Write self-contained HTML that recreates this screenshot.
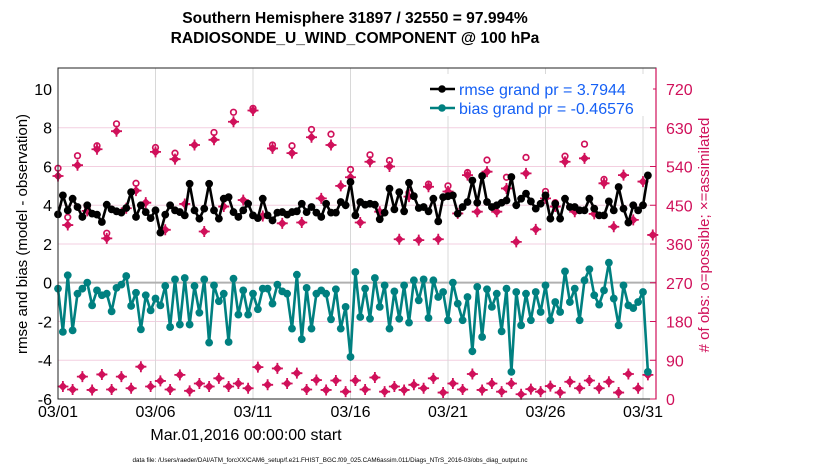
<!DOCTYPE html>
<html><head><meta charset="utf-8"><style>
body{margin:0;background:#fff;}
svg{display:block;font-family:"Liberation Sans",sans-serif;}
</style></head><body>
<svg id="chart" width="830" height="470" viewBox="0 0 830 470">
<text x="355" y="23" text-anchor="middle" font-size="15.6" font-weight="bold">Southern Hemisphere 31897 / 32550 = 97.994%</text>
<text x="355" y="43" text-anchor="middle" font-size="15.6" font-weight="bold">RADIOSONDE_U_WIND_COMPONENT @ 100 hPa</text>
<g id="grid"></g>
<g id="marks"></g>
<rect x="58" y="68" width="598" height="331" fill="none" stroke="#222" stroke-width="1"/>
<line x1="656" y1="68" x2="656" y2="399" stroke="#d0105a" stroke-width="1.2"/>
<g id="axes"></g>
<text x="246" y="440" text-anchor="middle" font-size="16">Mar.01,2016 00:00:00 start</text>
<text x="330" y="462" text-anchor="middle" font-size="6.3">data file: /Users/raeder/DAI/ATM_forcXX/CAM6_setup/f.e21.FHIST_BGC.f09_025.CAM6assim.011/Diags_NTrS_2016-03/obs_diag_output.nc</text>
<text transform="translate(27,234) rotate(-90)" text-anchor="middle" font-size="15">rmse and bias (model - observation)</text>
<text transform="translate(709,235) rotate(-90)" text-anchor="middle" font-size="15" fill="#d0105a"># of obs: o=possible; ×=assimilated</text>
<g>
<rect x="425" y="74" width="228" height="42" fill="#fff"/>
<line x1="430" y1="89" x2="455" y2="89" stroke="#000" stroke-width="2.5"/>
<circle cx="442" cy="89" r="3.8" fill="#000"/>
<text x="459" y="95" font-size="16" fill="#1560f5">rmse grand pr = 3.7944</text>
<line x1="430" y1="108" x2="455" y2="108" stroke="#008080" stroke-width="2.5"/>
<circle cx="442" cy="108" r="3.8" fill="#008080"/>
<text x="459" y="114" font-size="16" fill="#1560f5">bias grand pr = -0.46576</text>
</g>
</svg>
<script>
const xTickLabels=["03/01","03/06","03/11","03/16","03/21","03/26","03/31"];
const xTickDays=[0,5,10,15,20,25,30];
const yTickLabels=[-6,-4,-2,0,2,4,6,8,10];
const rTickLabels=[0,90,180,270,360,450,540,630,720];
const rmse=[3.52,4.50,3.73,4.33,3.90,3.39,3.99,3.56,3.51,3.13,4.02,3.78,3.68,3.61,3.85,4.67,3.39,3.99,3.64,3.33,3.73,2.58,3.51,3.99,3.73,3.64,3.47,5.10,3.73,3.30,3.82,5.10,3.73,3.30,4.33,4.41,3.64,3.39,3.73,4.07,3.47,3.33,4.33,
3.47,3.21,3.61,3.64,3.51,3.64,3.68,4.07,3.64,3.90,3.61,3.39,4.07,3.61,3.61,4.16,3.99,5.19,3.47,4.16,4.02,4.07,4.02,3.27,3.61,4.85,3.78,4.67,3.68,5.15,4.46,3.85,3.90,3.68,4.33,3.16,4.41,4.46,4.50,3.56,
3.90,4.16,5.27,4.12,5.50,4.16,3.90,3.99,4.12,4.24,5.45,3.99,4.33,4.59,4.19,3.82,4.07,4.50,3.30,4.07,3.30,4.33,3.90,3.90,3.73,3.73,4.33,3.82,3.47,3.47,4.19,3.73,4.93,3.82,3.10,3.99,3.73,3.99,5.53];
const bias=[-0.31,-2.54,0.38,-2.46,-0.57,-0.31,0,-1.17,-0.40,-0.65,-0.57,-1.48,-0.27,-0.10,0.34,-1.20,-0.52,-2.41,-0.65,-1.43,-0.82,-1.17,-0.17,-2.29,0.17,-2.16,0.24,-2.16,-0.17,-1.55,0.17,-3.09,-0.14,-0.96,-0.57,-3.06,0.21,-1.65,-0.40,-1.65,-0.57,-1.37,-0.31,
-0.31,-1.08,-0.10,-0.45,-0.57,-2.37,0.41,-2.92,-0.27,-2.37,-0.57,-0.40,-0.57,-1.89,-0.34,-2.37,-1.25,-3.83,0.55,-1.77,-0.31,-1.86,0.24,-1.25,-0.14,-2.37,-0.45,-1.86,-0.14,-2.06,0.12,-0.91,0.17,-1.82,0.12,-0.74,-0.48,-1.94,0,-1.08,
-1.94,-0.74,-3.54,-0.22,-2.80,-0.34,-1.25,-0.57,-2.51,-0.31,-4.60,-0.48,-2.20,-0.57,-1.94,-0.48,-1.51,-0.14,-1.94,-1.00,-1.51,0.58,-1.00,-0.31,-1.94,0.12,0.69,-0.65,-1.13,-0.40,1.03,-0.82,-2.20,-0.14,-1.17,-1.31,-1.00,-0.48,-4.60];
const assimilated=[518,29,404,22,543,52,437,21,580,57,373,22,622,52,443,25,484,75,456,29,574,42,393,22,557,56,453,19,590,36,389,29,602,48,447,29,644,36,462,25,670,74,425,33,
582,71,408,36,571,60,410,22,608,44,466,21,590,43,495,17,515,43,410,22,551,50,435,17,540,29,371,21,470,33,369,25,493,48,371,15,482,36,431,22,520,58,
435,21,528,36,435,17,489,36,365,11,524,23,394,17,466,30,447,15,551,40,435,25,559,43,430,25,501,40,400,15,520,58,416,25,505,56,381];
const possible=[536,29,422,22,565,52,447,21,588,57,385,22,639,52,447,25,501,75,458,29,584,42,394,22,571,56,454,19,594,36,389,29,619,48,448,29,666,36,464,25,675,74,427,33,
590,71,408,36,588,60,410,22,626,44,466,21,615,43,495,17,533,43,410,22,567,50,435,17,554,29,371,21,479,33,369,25,499,48,371,15,495,36,431,22,526,58,
435,21,555,36,435,17,515,36,365,11,561,23,394,17,482,30,456,15,564,40,435,25,592,43,430,25,510,40,400,15,523,58,416,25,509,56,381];

const NS="http://www.w3.org/2000/svg";
const X0=58, DAYPX=19.5, PERDAY=4;
const xDay=d=>X0+d*DAYPX;
const xIdx=i=>xDay(i/PERDAY);
const yL=v=>399-(v+6)*19.39;
const yR=c=>399-c*(310/720);
function mk(tag,attrs,parent){const e=document.createElementNS(NS,tag);for(const k in attrs)e.setAttribute(k,attrs[k]);parent.appendChild(e);return e;}
const grid=document.getElementById('grid'),marks=document.getElementById('marks'),axes=document.getElementById('axes');

rTickLabels.forEach((c,k)=>{
  const y=yR(c);
  if(k>0&&k<rTickLabels.length-1){const l=mk('line',{x1:58,x2:656,y1:y,y2:y,stroke:'#f3cfe0','stroke-width':1},grid);
  
  }
  const t=mk('text',{x:666,y:y+6,'font-size':16,fill:'#d0105a'},axes);t.textContent=c;
  
  
  const tk=mk('line',{x1:650,x2:656,y1:y,y2:y,stroke:'#d0105a'},axes);
  
  
});
xTickDays.forEach((d,k)=>{
  const x=xDay(d);
  if(k>0){const l=mk('line',{x1:x,x2:x,y1:68,y2:399,stroke:'#d8d8d8','stroke-width':1},grid);
  
  }
  const t=mk('text',{x:x,y:417,'text-anchor':'middle','font-size':16},axes);t.textContent=xTickLabels[k];
  
  
});
yTickLabels.forEach(v=>{
  const y=yL(v);
  const t=mk('text',{x:52,y:y+6,'text-anchor':'end','font-size':16},axes);t.textContent=v;
  
  
});
const z=mk('line',{x1:58,x2:656,y1:yL(0),y2:yL(0),stroke:'#b0b0b0','stroke-width':2},grid);



assimilated.forEach((c,i)=>{
  const x=xIdx(i);
  if(possible[i]-c>4){const o=mk('circle',{cx:x,cy:yR(possible[i]),r:2.8,fill:'none',stroke:'#d0105a','stroke-width':1.7},marks);
  
  }
  const y=yR(c);
  const g=mk('g',{stroke:'#d0105a','stroke-width':1.8,fill:'#d0105a'},marks);
  
  
  mk('path',{d:`M${x-4.5} ${y}L${x} ${y-4.5}L${x+4.5} ${y}L${x} ${y+4.5}Z`,stroke:'none'},g);
  mk('path',{d:`M${x-5.5} ${y}H${x+5.5}M${x} ${y-5.5}V${y+5.5}`},g);
});
function series(vals,color,name){
  const pts=vals.map((v,i)=>xIdx(i).toFixed(1)+','+yL(v).toFixed(1)).join(' ');
  const pl=mk('polyline',{points:pts,fill:'none',stroke:color,'stroke-width':2.6,'stroke-linejoin':'round'},marks);
  
  
  vals.forEach((v,i)=>{const c=mk('circle',{cx:xIdx(i),cy:yL(v),r:3.9,fill:color},marks);
  
  });
}
series(bias,'#008080','bias');
series(rmse,'#000','rmse');
</script>
</body></html>
